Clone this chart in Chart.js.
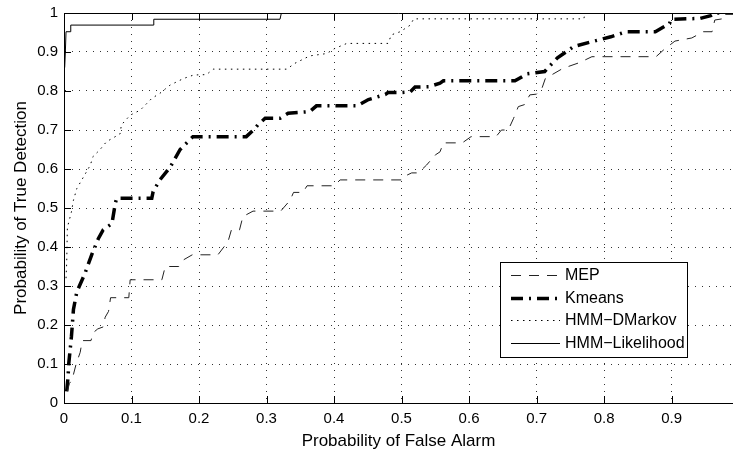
<!DOCTYPE html>
<html>
<head>
<meta charset="utf-8">
<title>ROC</title>
<script src="https://cdn.jsdelivr.net/npm/chart.js@4.4.1/dist/chart.umd.min.js"></script>
<style>
  body { margin: 0; background: #fff; }
  #rocChart { display: block; }
</style>
</head>
<body>
<canvas id="rocChart" width="733" height="456"></canvas>
<script>

/*VERILER*/
var seriAdlari = ["MEP", "Kmeans", "HMM\u2212DMarkov", "HMM\u2212Likelihood"];

var xTikleri = [0, 0.1, 0.2, 0.3, 0.4, 0.5, 0.6, 0.7, 0.8, 0.9];
var yTikleri = [0, 0.1, 0.2, 0.3, 0.4, 0.5, 0.6, 0.7, 0.8, 0.9, 1];

var mepYanlis = [0.005, 0.008, 0.012, 0.018, 0.024, 0.027, 0.040, 0.043, 0.050, 0.058, 0.061, 0.066, 0.069, 0.096, 0.098, 0.145, 0.150, 0.170, 0.177, 0.190, 0.228, 0.243, 0.248, 0.260, 0.265, 0.280, 0.321, 0.335, 0.340, 0.354, 0.360, 0.400, 0.409, 0.500, 0.503, 0.515, 0.525, 0.537, 0.550, 0.557, 0.562, 0.590, 0.603, 0.640, 0.648, 0.658, 0.666, 0.673, 0.682, 0.690, 0.700, 0.708, 0.713, 0.739, 0.764, 0.782, 0.877, 0.888, 0.905, 0.930, 0.947, 0.960, 0.964, 0.975, 0.982, 0.991];
var mepDogru = [0.030, 0.050, 0.060, 0.100, 0.130, 0.160, 0.160, 0.180, 0.190, 0.195, 0.220, 0.235, 0.270, 0.270, 0.316, 0.316, 0.350, 0.350, 0.367, 0.380, 0.380, 0.414, 0.444, 0.444, 0.478, 0.492, 0.492, 0.520, 0.540, 0.540, 0.557, 0.557, 0.572, 0.572, 0.580, 0.590, 0.590, 0.610, 0.636, 0.644, 0.667, 0.667, 0.683, 0.683, 0.700, 0.700, 0.730, 0.760, 0.765, 0.790, 0.792, 0.807, 0.832, 0.858, 0.873, 0.888, 0.888, 0.905, 0.928, 0.936, 0.952, 0.952, 0.982, 0.985, 1.000, 1.000];

var kmeansYanlis = [0.004, 0.006, 0.007, 0.011, 0.014, 0.019, 0.031, 0.041, 0.051, 0.058, 0.071, 0.076, 0.078, 0.130, 0.132, 0.142, 0.157, 0.172, 0.191, 0.270, 0.283, 0.287, 0.298, 0.320, 0.332, 0.364, 0.374, 0.434, 0.451, 0.476, 0.480, 0.498, 0.513, 0.520, 0.540, 0.557, 0.562, 0.668, 0.686, 0.712, 0.716, 0.731, 0.755, 0.781, 0.810, 0.833, 0.876, 0.897, 0.899, 0.942, 0.958, 0.965, 0.991];
var kmeansDogru = [0.030, 0.067, 0.100, 0.170, 0.240, 0.285, 0.332, 0.380, 0.422, 0.444, 0.460, 0.512, 0.525, 0.525, 0.542, 0.572, 0.604, 0.650, 0.683, 0.683, 0.704, 0.713, 0.730, 0.730, 0.743, 0.747, 0.762, 0.762, 0.778, 0.791, 0.796, 0.796, 0.798, 0.810, 0.811, 0.820, 0.826, 0.826, 0.844, 0.850, 0.858, 0.885, 0.914, 0.926, 0.939, 0.952, 0.952, 0.973, 0.984, 0.986, 0.993, 1.000, 1.000];

var dmarkovYanlis = [0.003, 0.004, 0.005, 0.011, 0.014, 0.019, 0.029, 0.039, 0.043, 0.053, 0.063, 0.083, 0.085, 0.098, 0.113, 0.130, 0.142, 0.157, 0.177, 0.192, 0.211, 0.221, 0.330, 0.342, 0.364, 0.389, 0.401, 0.419, 0.480, 0.485, 0.498, 0.513, 0.518, 0.770, 0.772, 0.991];
var dmarkovDogru = [0.320, 0.360, 0.450, 0.490, 0.520, 0.550, 0.580, 0.610, 0.632, 0.649, 0.670, 0.690, 0.713, 0.738, 0.751, 0.781, 0.794, 0.815, 0.832, 0.841, 0.842, 0.856, 0.856, 0.871, 0.890, 0.896, 0.909, 0.922, 0.922, 0.944, 0.952, 0.969, 0.985, 0.985, 1.000, 1.000];

var likelihoodYanlis = [0.001, 0.002, 0.003, 0.009, 0.010, 0.132, 0.133, 0.320, 0.322, 0.991];
var likelihoodDogru = [0.860, 0.900, 0.952, 0.952, 0.969, 0.969, 0.984, 0.984, 1.000, 1.000];
/*VERILER*/


function noktalariBirlestir(xler, yler) {
  var noktalar = new Array();
  for (var i = 0; i < xler.length; i++) {
    noktalar.push({x: xler[i], y: yler[i]});
  }
  return noktalar;
}

function tikYazisi(deger) {
  return String(+deger.toFixed(1));
}

var yaziTipi = "'Liberation Sans', Arial, Helvetica, sans-serif";


/*MATLAB GORUNUMU: UST CIZGI, ICERI TIKLER, LEJANT*/
var matlabKutu = {
  id: 'matlabKutu',
  afterDraw: function (chart) {
    var c = chart.ctx;
    var alan = chart.chartArea;
    var xS = chart.scales.x;
    var yS = chart.scales.y;

    c.save();
    c.strokeStyle = "#000";
    c.lineWidth = 1;
    c.setLineDash([]);

    // ust cerceve
    c.beginPath();
    c.moveTo(alan.left, alan.top + 0.5);
    c.lineTo(alan.right, alan.top + 0.5);
    c.stroke();

    // iceri tikler
    c.beginPath();
    for (var i = 0; i < xTikleri.length; i++) {
      var px = Math.round(xS.getPixelForValue(xTikleri[i])) + 0.5;
      c.moveTo(px, alan.bottom);
      c.lineTo(px, alan.bottom - 7);
      c.moveTo(px, alan.top);
      c.lineTo(px, alan.top + 7);
    }
    for (var j = 0; j < yTikleri.length; j++) {
      var py = Math.round(yS.getPixelForValue(yTikleri[j])) + 0.5;
      c.moveTo(alan.left, py);
      c.lineTo(alan.left + 7, py);
    }
    c.stroke();

    // lejant
    var kutuSag = alan.right - 46;
    var kutuAlt = alan.bottom - 46;
    var kutuGen = 187;
    var kutuYuk = 95;
    var kx = kutuSag - kutuGen;
    var ky = kutuAlt - kutuYuk;
    c.fillStyle = "#fff";
    c.fillRect(kx, ky, kutuGen, kutuYuk);
    c.strokeStyle = "#000";
    c.lineWidth = 1;
    c.strokeRect(Math.round(kx) + 0.5, Math.round(ky) + 0.5, kutuGen, kutuYuk);

    c.font = "16px " + yaziTipi;
    c.textBaseline = "middle";
    c.textAlign = "left";
    var veriler = chart.data.datasets;
    for (var k = 0; k < veriler.length; k++) {
      var satirY = Math.round(ky + 13 + k * 22.7) + 0.5;
      c.beginPath();
      c.strokeStyle = veriler[k].borderColor;
      c.lineWidth = veriler[k].borderWidth;
      c.setLineDash(veriler[k].borderDash || []);
      c.moveTo(kx + 11, satirY);
      c.lineTo(kx + 60, satirY);
      c.stroke();
      c.fillStyle = "#000";
      c.fillText(veriler[k].label, kx + 65, satirY);
    }
    c.restore();
  }
};
/*MATLAB GORUNUMU*/


var ctx = document.getElementById("rocChart");
var rocChart = new Chart(ctx, {
  type: 'line',
  data: {
    datasets: [{
      label: seriAdlari[0],
      data: noktalariBirlestir(mepYanlis, mepDogru),
      borderColor: "#222",
      borderWidth: 1,
      borderDash: [10, 8]
    },{
      label: seriAdlari[1],
      data: noktalariBirlestir(kmeansYanlis, kmeansDogru),
      borderColor: "#000",
      borderWidth: 3.5,
      borderDash: [12, 6, 2, 6]
    },{
      label: seriAdlari[2],
      data: noktalariBirlestir(dmarkovYanlis, dmarkovDogru),
      borderColor: "#000",
      borderWidth: 1,
      borderDash: [1.5, 4.5]
    },{
      label: seriAdlari[3],
      data: noktalariBirlestir(likelihoodYanlis, likelihoodDogru),
      borderColor: "#000",
      borderWidth: 1,
      borderDash: []
    }]
  },
  options: {
    responsive: false,
    animation: false,
    elements: {
      point: { radius: 0 },
      line: { tension: 0, borderCapStyle: 'butt', borderJoinStyle: 'miter' }
    },
    layout: { padding: { top: 13, right: 0, bottom: 0, left: 0 } },
    plugins: {
      legend: { display: false },
      tooltip: { enabled: false }
    },
    scales: {
      x: {
        type: 'linear',
        min: 0,
        max: 0.991,
        afterBuildTicks: function (s) {
          s.ticks = xTikleri.map(function (v) { return {value: v}; });
        },
        afterFit: function (s) {
          s.height = 53;
          s.paddingLeft = 0;
          s.paddingRight = 0;
        },
        grid: { color: "#333", lineWidth: 1, drawTicks: false },
        border: { display: true, color: "#000", width: 1, dash: [1, 6] },
        ticks: {
          padding: 7,
          color: "#000",
          font: { family: yaziTipi, size: 15 },
          maxRotation: 0,
          callback: tikYazisi
        },
        title: {
          display: true,
          text: "Probability of False Alarm",
          color: "#000",
          font: { family: yaziTipi, size: 17 },
          padding: { top: 0, bottom: 4 }
        }
      },
      y: {
        type: 'linear',
        min: 0,
        max: 1,
        afterBuildTicks: function (s) {
          s.ticks = yTikleri.map(function (v) { return {value: v}; });
        },
        afterFit: function (s) {
          s.width = 64;
          s.paddingTop = 0;
          s.paddingBottom = 0;
        },
        grid: { color: "#333", lineWidth: 1, drawTicks: false },
        border: { display: true, color: "#000", width: 1, dash: [1, 6] },
        ticks: {
          padding: 6,
          color: "#000",
          font: { family: yaziTipi, size: 15 },
          callback: tikYazisi
        },
        title: {
          display: true,
          text: "Probability of True Detection",
          color: "#000",
          font: { family: yaziTipi, size: 17 },
          padding: { top: 11, bottom: 0 }
        }
      }
    }
  },
  plugins: [matlabKutu]
});
</script>
</body>
</html>
